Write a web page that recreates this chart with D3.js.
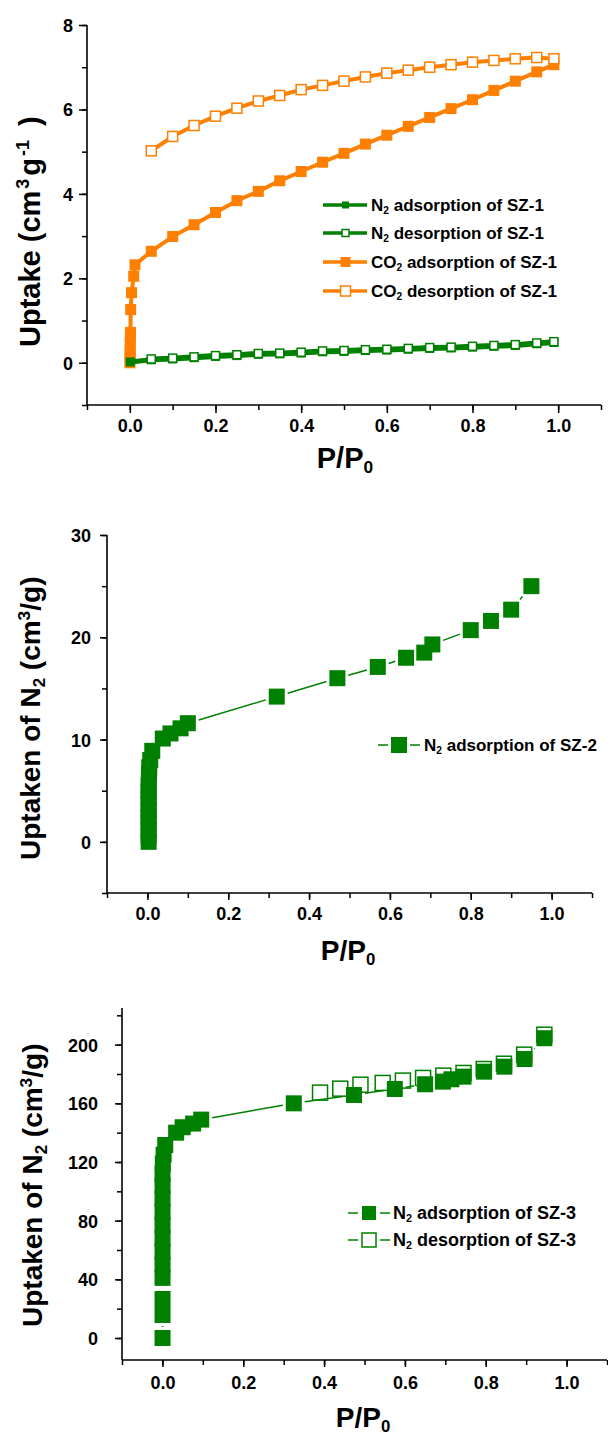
<!DOCTYPE html>
<html><head><meta charset="utf-8">
<script src="https://cdn.jsdelivr.net/npm/d3@7"></script>
<style>
body{margin:0;background:#fff}
svg{display:block}
text{font-family:"Liberation Sans",Arial,sans-serif;font-weight:bold;fill:#000}
</style>
</head><body>
<svg id="c" width="608" height="1436"></svg>
<script>
// ---------- DATA ----------
// Chart 1 (SZ-1)
const n2AdsP1 = [0.001,0.05,0.10,0.15,0.20,0.25,0.30,0.35,0.40,0.45,0.50,0.55,0.60,0.65,0.70,0.75,0.80,0.85,0.90,0.95,0.99];
const n2AdsV1 = [0.02,0.07,0.09,0.12,0.15,0.17,0.20,0.21,0.23,0.26,0.27,0.29,0.30,0.32,0.34,0.35,0.37,0.39,0.41,0.45,0.48];
const n2DesP1 = [0.05,0.10,0.15,0.20,0.25,0.30,0.35,0.40,0.45,0.50,0.55,0.60,0.65,0.70,0.75,0.80,0.85,0.90,0.95,0.99];
const n2DesV1 = [0.09,0.11,0.14,0.17,0.19,0.22,0.23,0.25,0.28,0.29,0.31,0.32,0.34,0.36,0.37,0.39,0.41,0.43,0.47,0.50];
const co2AdsP1 = [0.0003,0.0005,0.0007,0.0008,0.001,0.0012,0.0015,0.002,0.004,0.009,0.012,0.05,0.10,0.15,0.20,0.25,0.30,0.35,0.40,0.45,0.50,0.55,0.60,0.65,0.70,0.75,0.80,0.85,0.90,0.95,0.99];
const co2AdsV1 = [0,0.1,0.2,0.3,0.45,0.6,0.72,1.26,1.66,2.05,2.32,2.64,2.99,3.27,3.56,3.84,4.06,4.31,4.53,4.75,4.96,5.18,5.39,5.60,5.81,6.02,6.23,6.45,6.67,6.89,7.06];
const co2DesP1 = [0.05,0.10,0.15,0.20,0.25,0.30,0.35,0.40,0.45,0.50,0.55,0.60,0.65,0.70,0.75,0.80,0.85,0.90,0.95,0.99];
const co2DesV1 = [5.02,5.36,5.62,5.84,6.03,6.20,6.33,6.47,6.57,6.67,6.77,6.86,6.93,7.00,7.06,7.12,7.16,7.20,7.23,7.20];
const xTicks1 = [0,0.2,0.4,0.6,0.8,1.0];
const yTicks1 = [0,2,4,6,8];
const legend1 = [
  [{t:"N"},{t:"2",sub:1},{t:" adsorption of SZ-1"}],
  [{t:"N"},{t:"2",sub:1},{t:" desorption of SZ-1"}],
  [{t:"CO"},{t:"2",sub:1},{t:" adsorption of SZ-1"}],
  [{t:"CO"},{t:"2",sub:1},{t:" desorption of SZ-1"}]
];
const yTitle1 = [{t:"Uptake (cm"},{t:"3",sup:1,dx:2},{t:"g",dx:3},{t:"-1",sup:1,dx:2},{t:" )",dx:6}];

// Chart 2 (SZ-2)
const n2AdsP2 = [0.003,0.003,0.003,0.003,0.003,0.003,0.003,0.003,0.003,0.003,0.0035,0.004,0.0045,0.007,0.012,0.038,0.057,0.082,0.10,0.32,0.47,0.57,0.64,0.685,0.705,0.80,0.85,0.90,0.95];
const n2AdsV2 = [0,0.6,1.2,1.9,2.5,3.1,3.7,4.3,4.9,5.5,6.1,6.7,7.3,8.0,8.9,10.1,10.6,11.1,11.6,14.2,16.0,17.1,18.0,18.5,19.3,20.7,21.6,22.7,25.0];
const xTicks2 = [0,0.2,0.4,0.6,0.8,1.0];
const yTicks2 = [0,10,20,30];
const legend2 = [[{t:"N"},{t:"2",sub:1},{t:" adsorption of SZ-2"}]];
const yTitle2 = [{t:"Uptaken of N"},{t:"2",sub:1},{t:" (cm"},{t:"3",sup:1},{t:"/g)"}];

// Chart 3 (SZ-3)
const n2AdsP3 = [0.0003,0.0003,0.0003,0.0003,0.0003,0.0003,0.0003,0.0003,0.0003,0.0003,0.0003,0.0003,0.001,0.003,0.007,0.034,0.05,0.076,0.096,0.325,0.474,0.575,0.65,0.694,0.715,0.745,0.796,0.846,0.896,0.945];
const n2AdsV3 = [0,15.7,26.6,41,50,59,68,77,86,95,104,112,119,125,131.6,140,143.7,146.2,148.9,160,165.7,169.8,173,174.8,176.4,178.2,181.6,185,190.2,204.4];
const n2DesP3 = [0.39,0.44,0.49,0.545,0.595,0.645,0.695,0.745,0.795,0.845,0.895,0.945];
const n2DesV3 = [167.3,170,172.7,173.9,175.5,177.3,178.9,180.7,183.4,187,193.2,206.8];
const xTicks3 = [0,0.2,0.4,0.6,0.8,1.0];
const yTicks3 = [0,40,80,120,160,200];
const legend3 = [
  [{t:"N"},{t:"2",sub:1},{t:" adsorption of SZ-3"}],
  [{t:"N"},{t:"2",sub:1},{t:" desorption of SZ-3"}]
];
const yTitle3 = [{t:"Uptaken of N"},{t:"2",sub:1},{t:" (cm"},{t:"3",sup:1},{t:"/g)"}];
const xTitle = [{t:"P/P"},{t:"0",sub:1}];

// ---------- HELPERS ----------
const GREEN = "#008000", ORANGE = "#ff7f00";
const svg = d3.select("#c");

function rich(sel, parts, size) {
  parts.forEach(p => {
    const ts = sel.append("tspan").text(p.t).attr("xml:space","preserve");
    if (p.dx) ts.attr("dx", p.dx);
    if (p.sub) ts.attr("font-size", size*0.6).attr("baseline-shift", "-30%");
    else if (p.sup) ts.attr("font-size", size*0.62).attr("baseline-shift", "60%");
  });
}

function zip(P, V){ return P.map((p,i)=>[p,V[i]]); }

function drawAxes(o) {
  const g = svg.append("g");
  const [x0,x1] = o.x.range(), [yb,yt] = o.y.range();
  const minorX = d3.range(-1, 12).map(i => i/10);
  g.append("g").attr("transform",`translate(0,${yb})`)
    .call(d3.axisBottom(o.x).tickValues(minorX).tickSize(o.minor).tickSizeOuter(0).tickFormat(""))
    .call(s=>s.select(".domain").remove());
  const gx = g.append("g").attr("transform",`translate(0,${yb})`)
    .call(d3.axisBottom(o.x).tickValues(o.xTicks).tickSize(o.major).tickSizeOuter(0).tickFormat(d3.format(".1f")));
  gx.select(".domain").remove();
  gx.selectAll("text").attr("y", o.xLab).attr("dy","0.35em").attr("font-size", o.tick);
  const gy0 = g.append("g").attr("transform",`translate(${x0},0)`)
    .call(d3.axisLeft(o.y).tickValues(o.yMinor).tickSize(o.minor).tickSizeOuter(0).tickFormat(""));
  gy0.select(".domain").remove();
  const gy = g.append("g").attr("transform",`translate(${x0},0)`)
    .call(d3.axisLeft(o.y).tickValues(o.yTicks).tickSize(o.major).tickSizeOuter(0).tickFormat(d3.format("d")));
  gy.select(".domain").remove();
  gy.selectAll("text").attr("x", -o.yLab).attr("dy","0.36em").attr("font-size", o.tick);
  g.selectAll(".tick line").attr("stroke","#000").attr("stroke-width",1.5);
  g.selectAll("g").attr("font-family",null);
  g.append("line").attr("x1",x0).attr("x2",x1).attr("y1",yb).attr("y2",yb).attr("stroke","#000").attr("stroke-width",1.6);
  g.append("line").attr("x1",x0).attr("x2",x0).attr("y1",yb).attr("y2",yt).attr("stroke","#000").attr("stroke-width",1.6);
  const tx = svg.append("text").attr("x",o.xt[0]).attr("y",o.xt[1]).attr("text-anchor","middle").attr("font-size",o.titleSize);
  rich(tx, xTitle, o.titleSize);
  const ty = svg.append("text").attr("transform",`translate(${o.yt[0]},${o.yt[1]}) rotate(-90)`).attr("text-anchor","start").attr("font-size",o.titleSize);
  rich(ty, o.yTitle, o.titleSize);
}

function squares(g, pts, x, y, size, color, hollow, sw) {
  g.selectAll(null).data(pts).enter().append("rect")
    .attr("x", d => x(d[0]) - size/2).attr("y", d => y(d[1]) - size/2)
    .attr("width", size).attr("height", size)
    .attr("fill", hollow ? "#fff" : color)
    .attr("stroke", hollow ? color : "none").attr("stroke-width", sw||0);
}

function gapLine(g, pts, x, y, half, gap, color, w) {
  for (let i=0;i<pts.length-1;i++){
    const ax=x(pts[i][0]), ay=y(pts[i][1]), bx=x(pts[i+1][0]), by=y(pts[i+1][1]);
    const dx=bx-ax, dy=by-ay, L=Math.hypot(dx,dy);
    if (!L) continue;
    const ux=dx/L, uy=dy/L;
    const s = half/Math.max(Math.abs(ux),Math.abs(uy)) + gap;
    if (L <= 2*s) continue;
    g.append("line").attr("x1",ax+ux*s).attr("y1",ay+uy*s).attr("x2",bx-ux*s).attr("y2",by-uy*s)
      .attr("stroke",color).attr("stroke-width",w);
  }
}

// ---------- CHART 1 ----------
{
  const x = d3.scaleLinear().domain([-0.1,1.1]).range([87,601]);
  const y = d3.scaleLinear().domain([-1,8]).range([405,25]);
  drawAxes({x,y,xTicks:xTicks1,yTicks:yTicks1,yMinor:d3.range(-1,9),major:8,minor:5,xLab:21,yLab:14,tick:18,
    xt:[345,468],yt:[40,347],yTitle:yTitle1,titleSize:29});
  const g = svg.append("g");
  const line = d3.line().x(d=>x(d[0])).y(d=>y(d[1]));
  const series = [
    {pts:zip(co2AdsP1,co2AdsV1),c:ORANGE,h:false,s:11,w:4},
    {pts:zip(co2DesP1,co2DesV1),c:ORANGE,h:true,s:10,w:4},
    {pts:zip(n2AdsP1,n2AdsV1),c:GREEN,h:false,s:9,w:5},
    {pts:zip(n2DesP1,n2DesV1),c:GREEN,h:true,s:8,w:5}
  ];
  series.forEach(s=>{
    g.append("path").attr("d",line(s.pts)).attr("fill","none").attr("stroke",s.c).attr("stroke-width",s.w).attr("stroke-linejoin","round");
    squares(g,s.pts,x,y,s.s,s.c,s.h,1.5);
  });
  const lg = svg.append("g");
  const rows=[205,233,262,291], cols=[GREEN,GREEN,ORANGE,ORANGE], hol=[false,true,false,true], ms=[7,7,10,10];
  legend1.forEach((parts,i)=>{
    lg.append("line").attr("x1",323).attr("x2",367).attr("y1",rows[i]).attr("y2",rows[i]).attr("stroke",cols[i]).attr("stroke-width",3.5);
    lg.append("rect").attr("x",345.5-ms[i]/2).attr("y",rows[i]-ms[i]/2).attr("width",ms[i]).attr("height",ms[i])
      .attr("fill",hol[i]?"#fff":cols[i]).attr("stroke",hol[i]?cols[i]:"none").attr("stroke-width",1.5);
    const t = lg.append("text").attr("x",371).attr("y",rows[i]+6).attr("font-size",17);
    rich(t, parts, 17);
  });
}

// ---------- CHART 2 ----------
{
  const x = d3.scaleLinear().domain([-0.1,1.1]).range([107,592]);
  const y = d3.scaleLinear().domain([-5,30]).range([893,535]);
  drawAxes({x,y,xTicks:xTicks2,yTicks:yTicks2,yMinor:d3.range(-5,31,5),major:7,minor:5,xLab:21,yLab:16,tick:18,
    xt:[348,960],yt:[40,860],yTitle:yTitle2,titleSize:28});
  const g = svg.append("g");
  const pts = zip(n2AdsP2,n2AdsV2);
  gapLine(g,pts,x,y,8,3,GREEN,1.5);
  squares(g,pts,x,y,16,GREEN,false,0);
  const lg = svg.append("g"), ry=745;
  lg.append("line").attr("x1",378).attr("x2",388).attr("y1",ry).attr("y2",ry).attr("stroke",GREEN).attr("stroke-width",1.5);
  lg.append("line").attr("x1",410).attr("x2",420).attr("y1",ry).attr("y2",ry).attr("stroke",GREEN).attr("stroke-width",1.5);
  lg.append("rect").attr("x",391).attr("y",ry-8).attr("width",16).attr("height",16).attr("fill",GREEN);
  const t = lg.append("text").attr("x",424).attr("y",ry+6).attr("font-size",17);
  rich(t, legend2[0], 17);
}

// ---------- CHART 3 ----------
{
  const x = d3.scaleLinear().domain([-0.1,1.1]).range([122,607]);
  const y = d3.scaleLinear().domain([-15,225]).range([1360,1008]);
  drawAxes({x,y,xTicks:xTicks3,yTicks:yTicks3,yMinor:d3.range(0,221,20),major:7,minor:5,xLab:23,yLab:24,tick:18,
    xt:[363,1427],yt:[42,1327],yTitle:yTitle3,titleSize:28});
  const g = svg.append("g");
  const des = zip(n2DesP3,n2DesV3), ads = zip(n2AdsP3,n2AdsV3);
  gapLine(g,des,x,y,8,3,GREEN,1.5);
  squares(g,des,x,y,15,GREEN,true,1.5);
  gapLine(g,ads,x,y,8,3,GREEN,1.5);
  squares(g,ads,x,y,16,GREEN,false,0);
  const lg = svg.append("g"), rows=[1213,1240];
  legend3.forEach((parts,i)=>{
    const ry = rows[i];
    lg.append("line").attr("x1",348).attr("x2",358).attr("y1",ry).attr("y2",ry).attr("stroke",GREEN).attr("stroke-width",1.5);
    lg.append("line").attr("x1",380).attr("x2",390).attr("y1",ry).attr("y2",ry).attr("stroke",GREEN).attr("stroke-width",1.5);
    lg.append("rect").attr("x",362).attr("y",ry-7).attr("width",14).attr("height",14)
      .attr("fill",i?"#fff":GREEN).attr("stroke",i?GREEN:"none").attr("stroke-width",1.5);
    const t = lg.append("text").attr("x",393).attr("y",ry+6).attr("font-size",18);
    rich(t, parts, 18);
  });
}
</script>
</body></html>
